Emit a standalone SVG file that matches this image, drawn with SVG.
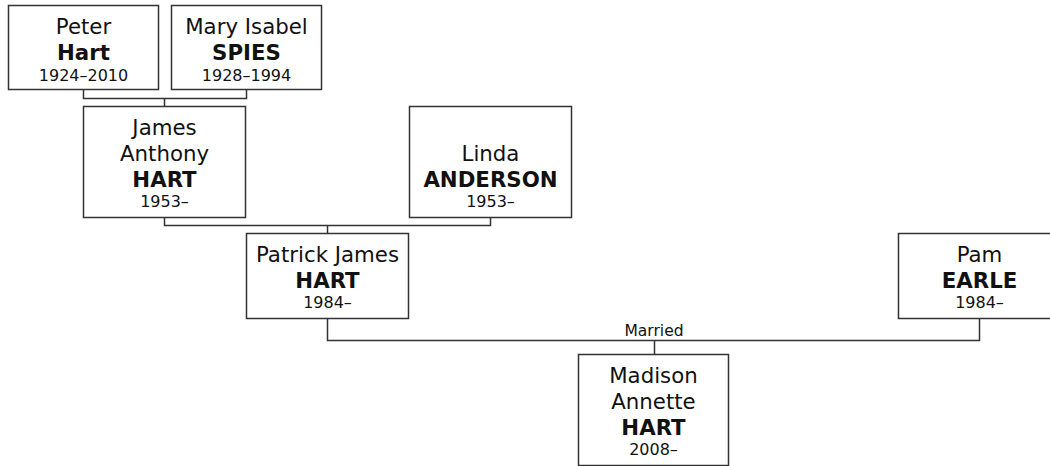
<svg xmlns="http://www.w3.org/2000/svg" width="1050" height="466" viewBox="0 0 1050 466">
<style>
.box{fill:#fff;stroke:#333;stroke-width:1.5}
.ln{fill:none;stroke:#333;stroke-width:1.5}
text{font-family:"DejaVu Sans",Verdana,sans-serif;fill:#111;text-anchor:middle}
.n{font-size:21.3px}
.b{font-size:21.3px;font-weight:bold}
.d{font-size:16px}
.m{font-size:15.5px}
</style>
<rect width="1050" height="466" fill="#fff"/>
<g id="connectors">
<path class="ln" d="M83.5 89.5V98.5H246.5V89.5M164.5 98.5V106.5"/>
<path class="ln" d="M164.5 217.5V225.5H490.5V217.5M327.5 225.5V233.5"/>
<path class="ln" d="M327.5 318.5V340.5H979.5V318.5M654.5 340.5V354.5"/>
<text class="m" x="654" y="336">Married</text>
</g>
<g id="peter">
<rect class="box" x="8.5" y="5.5" width="150" height="84"/>
<text class="n" x="83.5" y="34">Peter</text>
<text class="b" x="83.5" y="60">Hart</text>
<text class="d" x="83.5" y="81">1924–2010</text>
</g>
<g id="mary">
<rect class="box" x="171.5" y="5.5" width="150" height="84"/>
<text class="n" x="246.5" y="34">Mary Isabel</text>
<text class="b" x="246.5" y="60">SPIES</text>
<text class="d" x="246.5" y="81">1928–1994</text>
</g>
<g id="james">
<rect class="box" x="83.5" y="106.5" width="162" height="111"/>
<text class="n" x="164.5" y="135">James</text>
<text class="n" x="164.5" y="161">Anthony</text>
<text class="b" x="164.5" y="187">HART</text>
<text class="d" x="164.5" y="207">1953–</text>
</g>
<g id="linda">
<rect class="box" x="409.5" y="106.5" width="162" height="111"/>
<text class="n" x="490.5" y="161">Linda</text>
<text class="b" x="490.5" y="187">ANDERSON</text>
<text class="d" x="490.5" y="207">1953–</text>
</g>
<g id="patrick">
<rect class="box" x="246.5" y="233.5" width="162" height="85"/>
<text class="n" x="327.5" y="262">Patrick James</text>
<text class="b" x="327.5" y="288">HART</text>
<text class="d" x="327.5" y="308">1984–</text>
</g>
<g id="pam">
<rect class="box" x="898.5" y="233.5" width="162" height="85"/>
<text class="n" x="979.5" y="262">Pam</text>
<text class="b" x="979.5" y="288">EARLE</text>
<text class="d" x="979.5" y="308">1984–</text>
</g>
<g id="madison">
<rect class="box" x="578.5" y="354.5" width="150" height="111"/>
<text class="n" x="653.5" y="383">Madison</text>
<text class="n" x="653.5" y="409">Annette</text>
<text class="b" x="653.5" y="435">HART</text>
<text class="d" x="653.5" y="455">2008–</text>
</g>
</svg>
